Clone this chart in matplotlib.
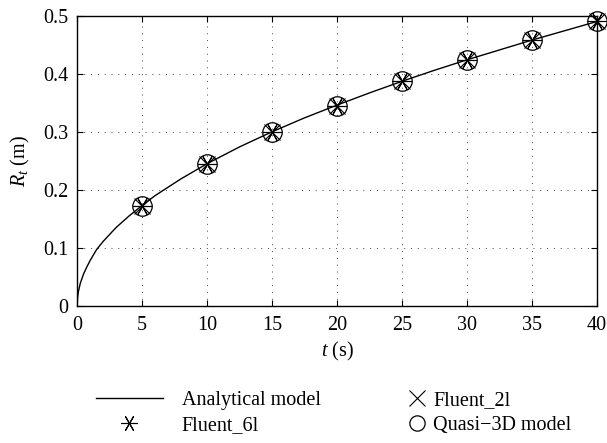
import numpy as np
import matplotlib
matplotlib.use("Agg")
import matplotlib.pyplot as plt

plt.rcParams['font.family'] = ['Liberation Serif', 'DejaVu Serif']
plt.rcParams['mathtext.fontset'] = 'custom'
plt.rcParams['mathtext.it'] = 'Liberation Serif:italic'
plt.rcParams['mathtext.rm'] = 'Liberation Serif'

# analytical curve
t_curve = [0, 0.05, 0.1, 0.25, 0.5, 0.75, 1, 1.5, 2, 3, 4, 5, 6, 8, 10, 12.5, 15,
           17.5, 20, 22.5, 25, 27.5, 30, 32.5, 35, 37.5, 40]
r_curve = [0, 0.016, 0.024, 0.039, 0.055, 0.067, 0.078, 0.097, 0.111, 0.135, 0.155,
           0.173, 0.190, 0.219, 0.245, 0.274, 0.300, 0.324, 0.346, 0.367, 0.387,
           0.406, 0.424, 0.441, 0.458, 0.474, 0.490]

# simulation points
t_pts = [5, 10, 15, 20, 25, 30, 35, 40]
r_2l = [0.172, 0.244, 0.299, 0.345, 0.387, 0.424, 0.458, 0.491]
r_6l = [0.172, 0.244, 0.299, 0.345, 0.387, 0.424, 0.458, 0.491]
r_q3d = [0.172, 0.244, 0.299, 0.345, 0.387, 0.424, 0.458, 0.491]

fs = 14.5

fig = plt.figure(figsize=(6.07, 4.43), dpi=100)
ax = fig.add_axes([0.1269, 0.3093, 0.8566, 0.6553])

l_an, = ax.plot(t_curve, r_curve, color='black', lw=1.0)
l_2l, = ax.plot(t_pts, r_2l, ls='none', marker='x', ms=12, mec='black', mew=0.8,
                clip_on=False)
l_6l, = ax.plot(t_pts, r_6l, ls='none', marker=(6, 2, 90), ms=14, mec='black', mew=0.8,
                clip_on=False)
l_q, = ax.plot(t_pts, r_q3d, ls='none', marker='o', ms=14, mfc='none', mec='black',
               mew=0.9, clip_on=False)

ax.set_xlim(0, 40)
ax.set_ylim(0, 0.5)
ax.set_xticks(range(0, 41, 5))
ax.set_yticks([0, 0.1, 0.2, 0.3, 0.4, 0.5])
ax.set_yticklabels(['0', '0.1', '0.2', '0.3', '0.4', '0.5'])
ax.grid(True, ls=(0, (1, 6)), color='#444444', lw=0.7)
ax.tick_params(direction='in', top=True, right=True, labelsize=fs, length=4)
ax.tick_params(axis='x', pad=7)
ax.tick_params(axis='y', pad=6)
for s in ax.spines.values():
    s.set_linewidth(1.0)
ax.set_xlabel('$t$ (s)', fontsize=fs, labelpad=4)
ax.set_ylabel('$R_t$ (m)', fontsize=fs, labelpad=8)

leg1 = fig.legend([l_an, l_6l], ['Analytical model', 'Fluent_6l'], loc='upper left',
                  bbox_to_anchor=(0.142, 0.14), frameon=False, fontsize=fs,
                  handlelength=3.3, handletextpad=0.95, labelspacing=0.3, borderpad=0)
leg2 = fig.legend([l_2l, l_q], ['Fluent_2l', 'Quasi\u22123D model'], loc='upper left',
                  bbox_to_anchor=(0.656, 0.14), frameon=False, fontsize=fs,
                  handlelength=0.9, handletextpad=0.35, labelspacing=0.3, borderpad=0)
for lh in leg1.legend_handles:
    lh.set_markersize(12)
for lh in leg2.legend_handles:
    lh.set_markersize(11)

fig.savefig('out.png', dpi=100)
